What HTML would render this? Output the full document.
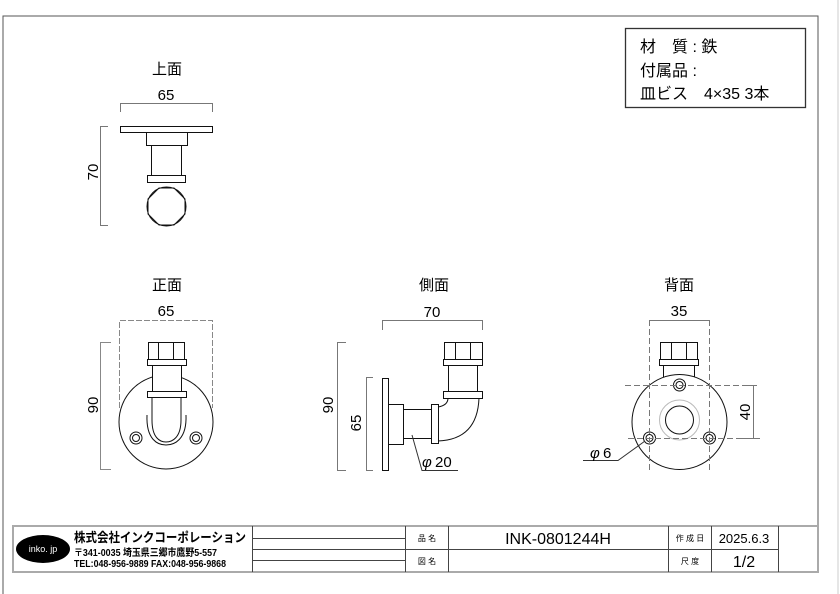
<!DOCTYPE html>
<html><head><meta charset="utf-8"><style>
html,body{margin:0;padding:0;background:#fff;}
svg{display:block;}
text{font-family:"Liberation Sans","Noto Sans CJK JP",sans-serif;fill:#000;}
</style></head><body>
<svg width="840" height="594" viewBox="0 0 840 594" xmlns="http://www.w3.org/2000/svg">
<rect x="0" y="0" width="840" height="594" fill="#fff"/>
<polyline points="3,594 3,16 818,16 818,526" fill="none" stroke="#555" stroke-width="1"/>
<line x1="838" y1="0" x2="838" y2="594" stroke="#ccc" stroke-width="1"/>
<rect x="625.5" y="28.5" width="180" height="79" fill="none" stroke="#333" stroke-width="1.3"/>
<text x="640" y="52" font-size="16">材　質 : 鉄</text>
<text x="640" y="76" font-size="16">付属品 :</text>
<text x="640" y="99" font-size="16">皿ビス　4×35  3本</text>

<g fill="none" stroke="#111" stroke-width="1">
<rect x="120.5" y="126.5" width="92" height="6"/>
<rect x="146.5" y="132.5" width="41" height="13"/>
<rect x="151.5" y="145.5" width="30" height="30"/>
<rect x="147.5" y="175.5" width="38" height="7"/>
<circle cx="166.5" cy="206.5" r="19.5"/>
<polygon points="159,188 174,188 185,199 185,214 174,225 159,225 148,214 148,199"/>
</g>
<g fill="none" stroke="#777" stroke-width="1">
<polyline points="120.5,112 120.5,103.5 212.5,103.5 212.5,112"/>
<polyline points="108,126.5 100.5,126.5 100.5,225.5 108,225.5"/>
</g>
<text x="167" y="74" font-size="15" text-anchor="middle">上面</text>
<text x="166" y="100" font-size="15" text-anchor="middle">65</text>
<text x="0" y="0" font-size="15" text-anchor="middle" transform="translate(98,172) rotate(-90)">70</text>

<g fill="none" stroke="#111" stroke-width="1">
<circle cx="166" cy="422" r="47"/>
<rect x="148.5" y="342.5" width="36" height="17" fill="#fff"/>
<line x1="158.5" y1="342" x2="158.5" y2="359"/><line x1="173.5" y1="342" x2="173.5" y2="359"/>
<rect x="147.5" y="359.5" width="39" height="6" fill="#fff"/>
<rect x="152.5" y="365.5" width="29" height="26" fill="#fff"/>
<path d="M147,415 C146,440 158,445 166,445 C174,445 187,440 186,415"/>
<path d="M152,397 L152,420 C152,438 160,442 166,442 C172,442 181,438 181,420 L181,397" fill="#fff"/>
<rect x="147.5" y="391.5" width="39" height="6" fill="#fff"/>
<circle cx="136" cy="438" r="6"/><circle cx="136" cy="438" r="3.5"/>
<circle cx="196" cy="438" r="6"/><circle cx="196" cy="438" r="3.5"/>
</g>
<g fill="none" stroke="#888" stroke-width="1">
<polyline points="119.5,408 119.5,320.5 212.5,320.5 212.5,408" stroke-dasharray="6,2"/>
<polyline points="111,342.5 100.5,342.5 100.5,469.5 111,469.5"/>
</g>
<text x="167" y="290" font-size="15" text-anchor="middle">正面</text>
<text x="166" y="316" font-size="15" text-anchor="middle">65</text>
<text x="0" y="0" font-size="15" text-anchor="middle" transform="translate(98,405) rotate(-90)">90</text>

<g fill="none" stroke="#111" stroke-width="1">
<rect x="382.5" y="378.5" width="6" height="92"/>
<rect x="388.5" y="404.5" width="15" height="40"/>
<rect x="403.5" y="409.5" width="28" height="29"/>
<rect x="431.5" y="404.5" width="7" height="39"/>
<rect x="444.5" y="342.5" width="38" height="17"/>
<line x1="455.5" y1="342" x2="455.5" y2="359"/><line x1="470.5" y1="342" x2="470.5" y2="359"/>
<rect x="443.5" y="359.5" width="39" height="6"/>
<rect x="448.5" y="365.5" width="29" height="26"/>
<rect x="443.5" y="391.5" width="39" height="7"/>
<path d="M479,398 C478,425 465,440 438,441"/>
<path d="M448,398 C448,403 444,406 438,407"/>
</g>
<g fill="none" stroke="#777" stroke-width="1">
<polyline points="382.5,330 382.5,320.5 482.5,320.5 482.5,330"/>
<polyline points="346,342.5 337.5,342.5 337.5,470.5 346,470.5"/>
<polyline points="373,377.5 366.5,377.5 366.5,470.5 373,470.5"/>
<polyline points="412,435 422,470.5 458,470.5" stroke="#333"/>
</g>
<text x="434" y="290" font-size="15" text-anchor="middle">側面</text>
<text x="432" y="317" font-size="15" text-anchor="middle">70</text>
<text x="0" y="0" font-size="15" text-anchor="middle" transform="translate(333,405) rotate(-90)">90</text>
<text x="0" y="0" font-size="15" text-anchor="middle" transform="translate(361,423) rotate(-90)">65</text>
<text x="422" y="467" font-size="15" font-style="italic">φ</text><text x="435" y="467" font-size="15">20</text>

<g fill="none" stroke="#111" stroke-width="1">
<rect x="663.5" y="365.5" width="31" height="14"/>
<circle cx="679.5" cy="422" r="47.5" fill="#fff"/>
<rect x="660.5" y="342.5" width="37" height="17"/>
<line x1="671.5" y1="342" x2="671.5" y2="359"/><line x1="686.5" y1="342" x2="686.5" y2="359"/>
<rect x="659.5" y="359.5" width="39" height="6"/>
<circle cx="679.5" cy="420" r="20" stroke="#bbb"/>
<circle cx="679.5" cy="420" r="14"/>
<circle cx="679.5" cy="385" r="6"/><circle cx="679.5" cy="385" r="3.5"/>
<circle cx="649.5" cy="438" r="6"/><circle cx="649.5" cy="438" r="3.5"/>
<circle cx="709.5" cy="438" r="6"/><circle cx="709.5" cy="438" r="3.5"/>
</g>
<g fill="none" stroke="#777" stroke-width="1" stroke-dasharray="6,3">
<line x1="649.5" y1="320" x2="649.5" y2="470"/>
<line x1="709.5" y1="320" x2="709.5" y2="470"/>
<line x1="625" y1="385.5" x2="757" y2="385.5"/>
<line x1="628" y1="438.5" x2="760" y2="438.5"/>
</g>
<g fill="none" stroke="#777" stroke-width="1">
<line x1="649.5" y1="320.5" x2="709.5" y2="320.5"/>
<polyline points="742,385.5 753.5,385.5 753.5,438.5 742,438.5"/>
<polyline points="645,441 618,460.5 583,460.5" stroke="#333"/>
</g>
<text x="679" y="290" font-size="15" text-anchor="middle">背面</text>
<text x="679" y="316" font-size="15" text-anchor="middle">35</text>
<text x="0" y="0" font-size="15" text-anchor="middle" transform="translate(750,412) rotate(-90)">40</text>
<text x="590" y="458" font-size="15" font-style="italic">φ</text><text x="603" y="458" font-size="15">6</text>

<rect x="13" y="526" width="805" height="46" fill="none" stroke="#aaa" stroke-width="2"/>
<g stroke="#444" stroke-width="1" fill="none">
<line x1="252.5" y1="526" x2="252.5" y2="572"/>
<line x1="405.5" y1="526" x2="405.5" y2="572"/>
<line x1="448.5" y1="526" x2="448.5" y2="572"/>
<line x1="668.5" y1="526" x2="668.5" y2="572"/>
<line x1="711.5" y1="526" x2="711.5" y2="572"/>
<line x1="778.5" y1="526" x2="778.5" y2="572"/>
<line x1="252" y1="538.5" x2="405" y2="538.5"/>
<line x1="252" y1="549.5" x2="778" y2="549.5"/>
<line x1="252" y1="560.5" x2="405" y2="560.5"/>
</g>
<ellipse cx="43" cy="549" rx="27" ry="14" fill="#000"/>
<text x="43" y="552" font-size="9" text-anchor="middle" style="fill:#fff">inko. jp</text>
<text x="74" y="542" font-size="13" font-weight="bold" textLength="172" lengthAdjust="spacingAndGlyphs">株式会社インクコーポレーション</text>
<text x="74" y="556" font-size="10" font-weight="bold" textLength="143" lengthAdjust="spacingAndGlyphs">〒341-0035 埼玉県三郷市鷹野5-557</text>
<text x="74" y="567" font-size="10" font-weight="bold" textLength="152" lengthAdjust="spacingAndGlyphs">TEL:048-956-9889  FAX:048-956-9868</text>
<text x="427" y="541" font-size="8" text-anchor="middle">品 名</text>
<text x="427" y="564" font-size="8" text-anchor="middle">図 名</text>
<text x="558" y="544" font-size="16" text-anchor="middle">INK-0801244H</text>
<text x="690" y="541" font-size="8" text-anchor="middle">作 成 日</text>
<text x="690" y="564" font-size="8" text-anchor="middle">尺 度</text>
<text x="744" y="543" font-size="13" text-anchor="middle">2025.6.3</text>
<text x="744" y="567" font-size="16" text-anchor="middle">1/2</text>
</svg>
</body></html>
